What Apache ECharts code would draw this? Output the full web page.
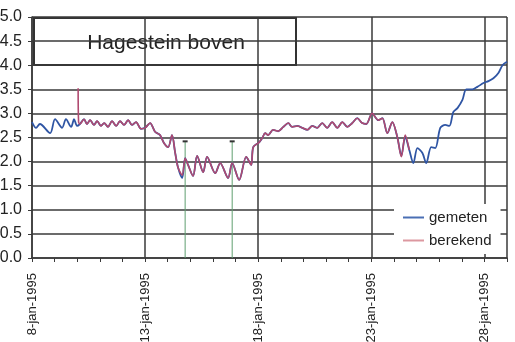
<!DOCTYPE html>
<html>
<head>
<meta charset="utf-8">
<script src="https://cdn.jsdelivr.net/npm/echarts@6/dist/echarts.min.js"></script>
<style>
  html, body { margin: 0; padding: 0; background: #fff; }
  #chart { width: 515px; height: 342px; }
</style>
</head>
<body>
<div id="chart"></div>
<script>
// Water level at Hagestein boven, January 1995 (days counted from 8 Jan 00:00)
const startDay = 8;
const monthLabel = 'jan';
const yearLabel = '1995';

// measured level (gemeten)
const gemetenDays = [
  0.00, 0.18, 0.35, 0.80, 1.02, 1.33, 1.50, 1.73, 1.86, 1.99,
  2.12, 2.30, 2.43, 2.57, 2.74, 2.88, 3.05, 3.19, 3.36, 3.54,
  3.72, 3.89, 4.07, 4.25, 4.42, 4.60, 4.82, 5.00, 5.22, 5.44,
  5.66, 5.84, 6.02, 6.19, 6.33, 6.46, 6.64, 6.77, 6.90, 7.12,
  7.30, 7.57, 7.74, 8.10, 8.32, 8.67, 8.85, 9.16, 9.47, 9.69,
  9.78, 10.04, 10.18, 10.31, 10.44, 10.66, 10.88, 11.11, 11.33, 11.50,
  11.73, 11.95, 12.17, 12.39, 12.61, 12.83, 13.05, 13.27, 13.50, 13.72,
  13.94, 14.16, 14.38, 14.60, 14.78, 15.04, 15.31, 15.49, 15.71, 15.93,
  16.15, 16.33, 16.50, 16.68, 16.86, 17.04, 17.26, 17.43, 17.65, 17.83,
  18.05, 18.27, 18.45, 18.63, 18.81, 19.03, 19.20, 19.47, 19.69, 19.96,
  20.18, 20.40, 20.62, 20.80, 21.00
];
const gemetenLevel = [
  2.82, 2.70, 2.78, 2.59, 2.88, 2.70, 2.88, 2.72, 2.88, 2.74,
  2.78, 2.88, 2.78, 2.86, 2.76, 2.84, 2.74, 2.80, 2.72, 2.84,
  2.74, 2.84, 2.76, 2.86, 2.76, 2.82, 2.68, 2.70, 2.80, 2.62,
  2.55, 2.38, 2.30, 2.55, 2.18, 1.87, 1.66, 2.07, 1.93, 1.70,
  2.12, 1.78, 2.10, 1.76, 1.97, 1.66, 1.97, 1.62, 2.10, 1.93,
  2.30, 2.40, 2.49, 2.59, 2.55, 2.66, 2.63, 2.72, 2.80, 2.72,
  2.74, 2.70, 2.66, 2.74, 2.70, 2.80, 2.70, 2.82, 2.70, 2.82,
  2.72, 2.80, 2.90, 2.80, 2.78, 3.00, 2.86, 2.90, 2.59, 2.82,
  2.51, 2.12, 2.52, 2.24, 1.97, 2.28, 2.18, 1.97, 2.30, 2.28,
  2.70, 2.76, 2.74, 3.03, 3.11, 3.28, 3.50, 3.50, 3.55, 3.63,
  3.67, 3.73, 3.84, 4.00, 4.07
];

// computed level (berekend)
const berekendDays = [
  2.04, 2.06, 2.12, 2.30, 2.43, 2.57, 2.74, 2.88, 3.05, 3.19,
  3.36, 3.54, 3.72, 3.89, 4.07, 4.25, 4.42, 4.60, 4.82, 5.00,
  5.22, 5.44, 5.66, 5.84, 6.02, 6.19, 6.33, 6.46, 6.64, 6.77,
  6.90, 7.12, 7.30, 7.57, 7.74, 8.10, 8.32, 8.67, 8.85, 9.16,
  9.47, 9.69, 9.78, 10.04, 10.18, 10.31, 10.44, 10.66, 10.88, 11.11,
  11.33, 11.50, 11.73, 11.95, 12.17, 12.39, 12.61, 12.83, 13.05, 13.27,
  13.50, 13.72, 13.94, 14.16, 14.38, 14.60, 14.78, 15.04, 15.31, 15.49,
  15.71, 15.93, 16.15, 16.33, 16.50, 16.68
];
const berekendLevel = [
  3.52, 2.82, 2.78, 2.88, 2.78, 2.86, 2.76, 2.84, 2.74, 2.80,
  2.72, 2.84, 2.74, 2.84, 2.76, 2.86, 2.76, 2.82, 2.68, 2.70,
  2.80, 2.62, 2.55, 2.38, 2.30, 2.55, 2.18, 1.87, 1.72, 2.07,
  1.93, 1.70, 2.12, 1.78, 2.10, 1.76, 1.97, 1.66, 1.97, 1.62,
  2.10, 1.93, 2.30, 2.40, 2.49, 2.59, 2.55, 2.66, 2.63, 2.72,
  2.80, 2.72, 2.74, 2.70, 2.66, 2.74, 2.70, 2.80, 2.70, 2.82,
  2.70, 2.82, 2.72, 2.80, 2.90, 2.80, 2.78, 3.00, 2.86, 2.90,
  2.59, 2.82, 2.51, 2.10, 2.55, 2.24
];

// vertical event markers
const markerDays = [6.77, 8.85];
const markerLevel = 2.42;

// axis settings
const yMin = 0, yMax = 5, yStep = 0.5;
const xMin = 0, xMax = 21, xStep = 5;

const font = 'Liberation Sans, Arial, sans-serif';
const gridColor = '#3a3a3a';

const zip = (xs, ys) => xs.map((x, i) => [x, ys[i]]);

const markerSeries = markerDays.map(d => ({
  type: 'line',
  silent: true,
  z: 1,
  symbol: 'none',
  lineStyle: { color: '#5f9f70', width: 1 },
  data: [[d, 0], {
    value: [d, markerLevel],
    symbol: 'rect', symbolSize: [5, 2],
    itemStyle: { color: '#333' }
  }],
  showSymbol: true
}));

const chart = echarts.init(document.getElementById('chart'), null, { renderer: 'canvas' });
chart.setOption({
  animation: false,
  backgroundColor: '#fff',
  grid: { left: 32, top: 17, right: 8, bottom: 84, outerBoundsMode: 'none', containLabel: false },
  xAxis: {
    type: 'value',
    min: xMin, max: xMax, interval: xStep,
    axisLine: { show: true, lineStyle: { color: gridColor, width: 1.5 } },
    axisTick: { show: true, length: 4, lineStyle: { color: gridColor, width: 1 } },
    minorTick: { show: true, splitNumber: 5, length: 4, lineStyle: { color: gridColor, width: 1 } },
    splitLine: { show: true, lineStyle: { color: gridColor, width: 1.5 } },
    axisLabel: {
      rotate: 90, margin: 15, showMaxLabel: false,
      fontFamily: font, fontSize: 13, color: '#222',
      formatter: v => (startDay + v) + '-' + monthLabel + '-' + yearLabel
    }
  },
  yAxis: {
    type: 'value',
    min: yMin, max: yMax, interval: yStep,
    axisLine: { show: true, lineStyle: { color: gridColor, width: 1.5 } },
    axisTick: { show: true, inside: false, length: 4, lineStyle: { color: gridColor } },
    splitLine: { show: true, lineStyle: { color: gridColor, width: 1.5 } },
    axisLabel: {
      margin: 10, fontFamily: font, fontSize: 16, color: '#222',
      formatter: v => v.toFixed(1)
    }
  },
  legend: {
    orient: 'vertical',
    left: 394, top: 204,
    padding: [6, 9, 6, 9],
    itemGap: 8, itemWidth: 21, itemHeight: 2,
    backgroundColor: '#fff',
    textStyle: { fontFamily: font, fontSize: 15, color: '#222' },
    data: [
      { name: 'gemeten', icon: 'rect', itemStyle: { color: '#4a6fb4' } },
      { name: 'berekend', icon: 'rect', itemStyle: { color: '#dc98a0' } }
    ]
  },
  series: [
    ...markerSeries,
    {
      name: 'gemeten', type: 'line', z: 2,
      data: zip(gemetenDays, gemetenLevel),
      symbol: 'none', smooth: 0.3,
      lineStyle: { color: '#2f55a4', width: 1.8 },
      itemStyle: { color: '#2f55a4' }
    },
    {
      name: 'berekend', type: 'line', z: 3,
      data: zip(berekendDays, berekendLevel),
      symbol: 'none', smooth: 0.3,
      lineStyle: { color: '#b04a70', width: 1.6 },
      itemStyle: { color: '#b04a70' }
    }
  ],
  graphic: [
    {
      type: 'group', left: 33, top: 17, z: 100,
      children: [
        { type: 'rect', shape: { x: 0, y: 0, width: 262, height: 47 },
          style: { fill: '#fff', stroke: '#333', lineWidth: 2 } },
        { type: 'text', x: 132, y: 25,
          style: { text: 'Hagestein boven', fontFamily: font, fontSize: 21, fill: '#222',
                   align: 'center', verticalAlign: 'middle' } }
      ]
    }
  ]
});
</script>
</body>
</html>
